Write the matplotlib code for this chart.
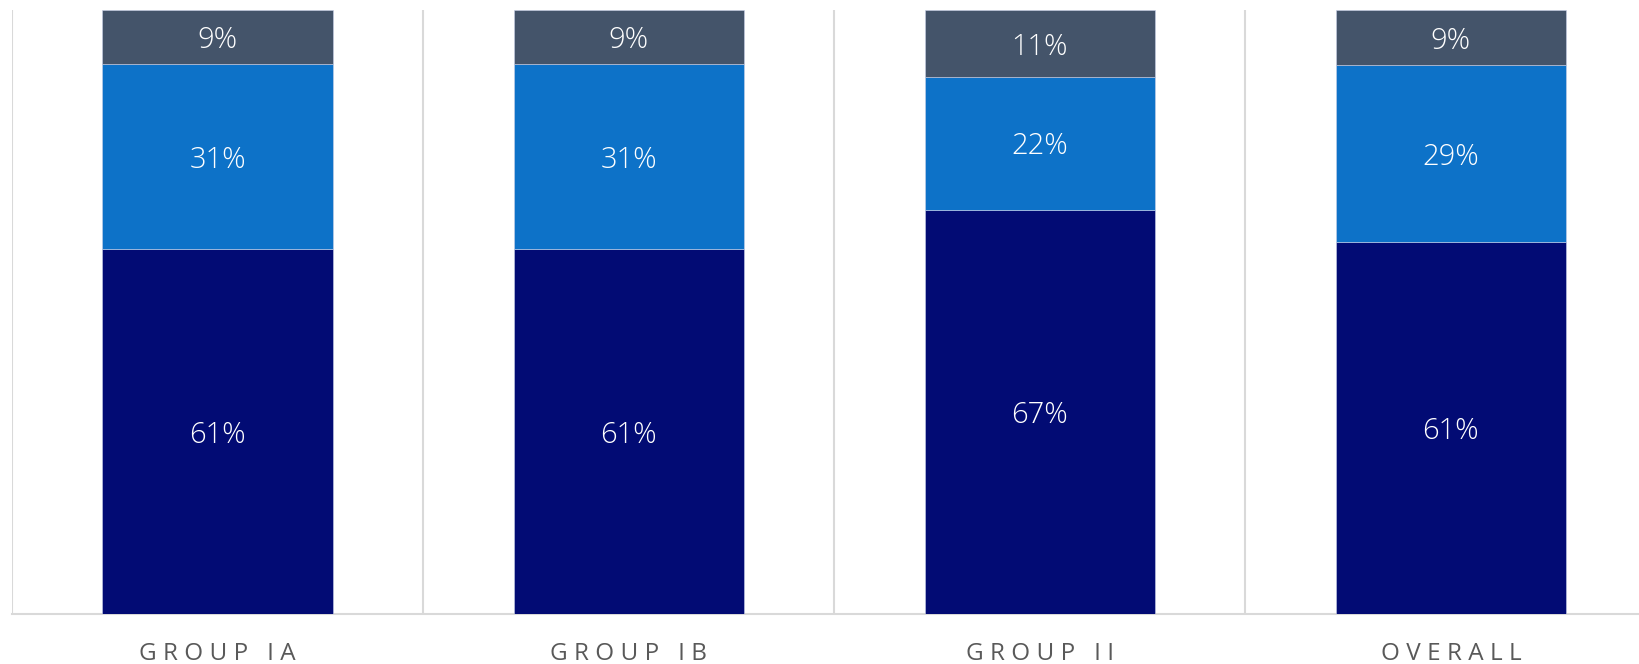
import matplotlib
matplotlib.use("Agg")
import matplotlib.pyplot as plt
import numpy as np

# Survey shares by group (percent, as labelled)
groups = ["GROUP IA", "GROUP IB", "GROUP II", "OVERALL"]
bottom_share = [61, 61, 67, 61]
middle_share = [31, 31, 22, 29]
top_share = [9, 9, 11, 9]

colors = ["#020b74", "#0d72c8", "#44546a"]

plt.rcParams["font.family"] = ["Open Sans", "DejaVu Sans"]

fig = plt.figure(figsize=(16.4, 6.64), dpi=100)
ax = fig.add_axes([12 / 1640, 50 / 664, 1628 / 1640, 603.7 / 664])

x = np.arange(len(groups))
series = np.array([bottom_share, middle_share, top_share], dtype=float)
totals = series.sum(axis=0)
norm = series / totals * 100  # each bar fills 0..100

base = np.zeros(len(groups))
for vals, raw, col in zip(norm, series, colors):
    ax.bar(x, vals, bottom=base, width=0.56, color=col,
           edgecolor="#c8d0e8", linewidth=0.4, zorder=3)
    for xi, b, v, r in zip(x, base, vals, raw):
        ax.text(xi, b + v / 2, f"{int(r)}%", ha="center", va="center_baseline",
                color="white", fontsize=21, fontweight="light", zorder=4)
    base += vals

ax.set_xlim(-0.5, -0.5 + 1628 / 411.1)
ax.set_ylim(0, 100)

# category separators
for b in np.arange(len(groups)) - 0.5:
    ax.axvline(b, color="#d9d9d9", linewidth=1.5, zorder=1)

for s in ["top", "right", "left"]:
    ax.spines[s].set_visible(False)
ax.spines["bottom"].set_color("#d9d9d9")
ax.spines["bottom"].set_linewidth(1.5)

ax.set_yticks([])
ax.set_xticks(x)
spaced = ["\u2009\u200a".join(list(g)) for g in groups]
ax.set_xticklabels(spaced, color="#595959", fontsize=17.5)
ax.tick_params(axis="x", length=0, pad=20)

fig.savefig("out.png", dpi=100)
